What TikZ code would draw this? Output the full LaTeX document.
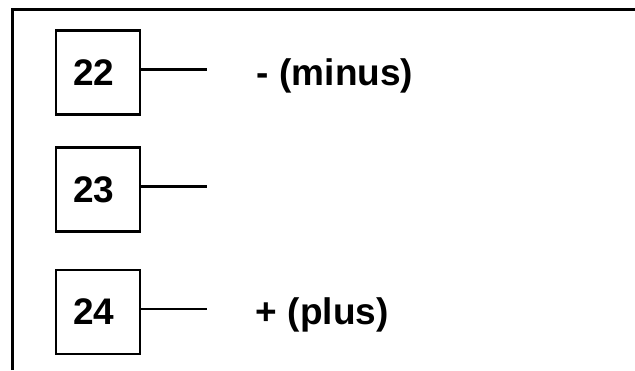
\documentclass[tikz,border=0pt]{standalone}
\usepackage{fontspec}
\setmainfont{Liberation Sans}
\usetikzlibrary{calc}

\tikzset{
    borne/.style={draw, line width=2.5pt, minimum size=84pt, inner ysep=0pt, inner xsep=17pt, text width=50pt, align=left, font=\bfseries\fontsize{37}{40}\selectfont},
    fil/.style={line width=2.5pt},
    legende/.style={anchor=base west, inner sep=0pt, font=\bfseries\fontsize{37}{40}\selectfont}
}

\begin{document}
\begin{tikzpicture}[x=1pt,y=-1pt]
            \useasboundingbox (0,0) rectangle (635,370);
            \coordinate (O) at (12.5,370);
            \coordinate (C) at (12.5,9.5);
            \coordinate (E) at (640,9.5);
            \draw[fil] (O) -- (C) -- (E);
            \foreach \n/\y in {22/72.5,23/189.5,24/312} {
                \node[borne] (b\n) at (98,\y) {\n};
                \coordinate (f\n) at ($(b\n.east)+(66,-3)$);
                \draw[fil] (b\n.east |- f\n) -- (f\n);
            }
            \node[legende] (moins) at ($(b22.base west)+(202,0)$) {- (minus)};
            \node[legende] (plus) at ($(b24.base west)+(201,0)$) {+ (plus)};
        \end{tikzpicture}
\end{document}
